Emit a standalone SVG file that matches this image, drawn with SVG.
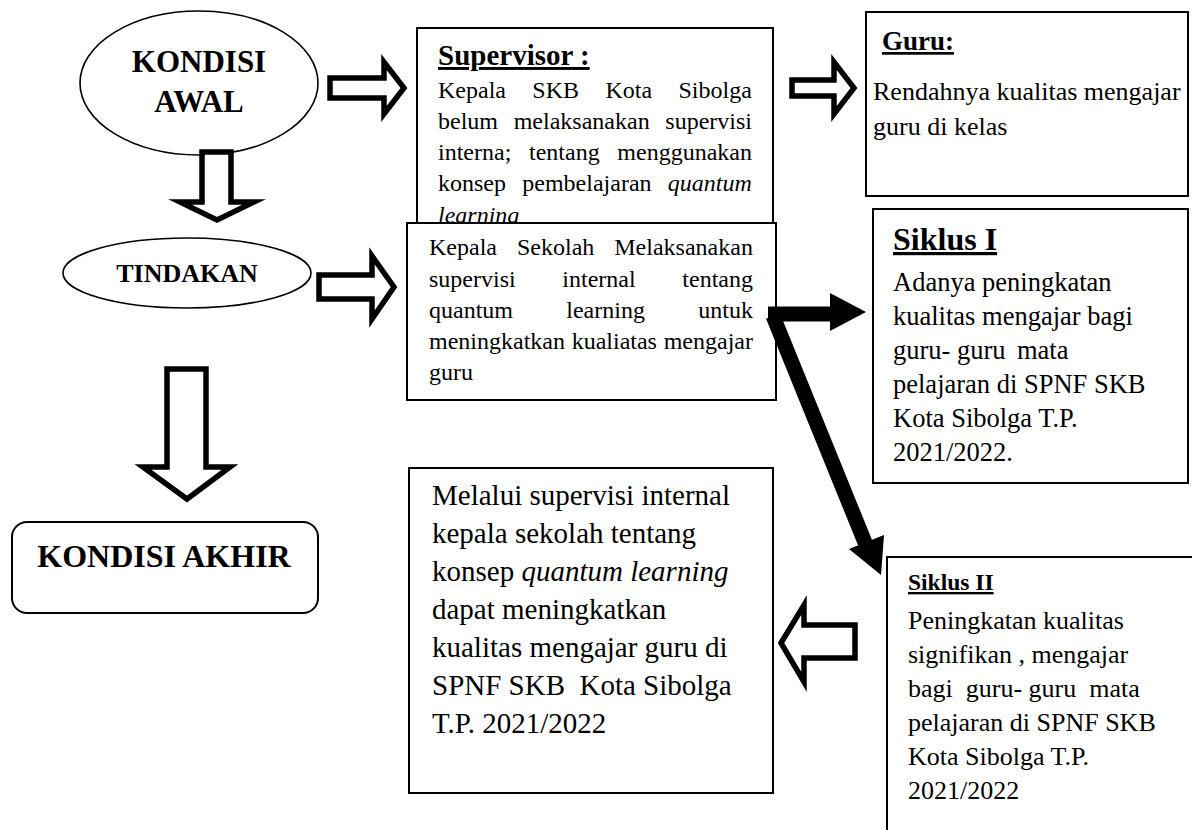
<svg xmlns="http://www.w3.org/2000/svg" width="1192" height="830" viewBox="0 0 1192 830">
<style>
text{font-family:"Liberation Serif","Times New Roman",serif;fill:#000}
.b{font-weight:bold}
.u{text-decoration:underline}
.box{fill:#fff;stroke:#000;stroke-width:2}
.ell{fill:#fff;stroke:#000;stroke-width:1.6}
.hol{fill:#fff;stroke:#000;stroke-width:5.5;stroke-linejoin:miter;stroke-miterlimit:10}
.blk{fill:#000;stroke:none}
.thick{stroke:#000;stroke-width:15;fill:none}
</style>
<rect width="1192" height="830" fill="#fff"/>

<g id="kondisi-awal">
<ellipse class="ell" cx="199" cy="83" rx="119" ry="72"/>
<text class="b" x="199" y="72" font-size="31" text-anchor="middle">KONDISI</text>
<text class="b" x="199" y="112" font-size="31" text-anchor="middle">AWAL</text>
</g>

<g id="supervisor">
<rect class="box" x="417" y="28" width="356" height="225"/>
<text class="b u" x="438" y="65" font-size="29">Supervisor :</text>
<text x="438" y="98" font-size="24" word-spacing="20.4">Kepala SKB Kota Sibolga</text>
<text x="438" y="129" font-size="24" word-spacing="9.7">belum melaksanakan supervisi</text>
<text x="438" y="160" font-size="24" word-spacing="11.7">interna; tentang menggunakan</text>
<text x="438" y="191" font-size="24" word-spacing="10.3">konsep pembelajaran <tspan font-style="italic">quantum</tspan></text>
<text x="438" y="223" font-size="24" font-style="italic">learning</text>
</g>

<g id="guru">
<rect class="box" x="866" y="12" width="322" height="184"/>
<text class="b u" x="882" y="50" font-size="27">Guru:</text>
<text x="873" y="100" font-size="26">Rendahnya kualitas mengajar</text>
<text x="873" y="135" font-size="26">guru di kelas</text>
</g>

<g id="tindakan">
<ellipse class="ell" cx="187" cy="273" rx="124" ry="35"/>
<text class="b" x="187" y="282" font-size="26" text-anchor="middle">TINDAKAN</text>
</g>

<g id="kepala-sekolah">
<rect class="box" x="407" y="223" width="369" height="177"/>
<text x="429" y="255" font-size="24" word-spacing="14">Kepala Sekolah Melaksanakan</text>
<text x="429" y="287" font-size="24" word-spacing="40.7">supervisi internal tentang</text>
<text x="429" y="318" font-size="24" word-spacing="47.3">quantum learning untuk</text>
<text x="429" y="349" font-size="24" word-spacing="0.7">meningkatkan kualiatas mengajar</text>
<text x="429" y="380" font-size="24">guru</text>
</g>

<g id="siklus-1">
<rect class="box" x="873" y="209" width="315" height="274"/>
<text class="b u" x="893" y="250" font-size="32">Siklus I</text>
<text x="893" y="291" font-size="26.5">Adanya peningkatan</text>
<text x="893" y="325" font-size="26.5">kualitas mengajar bagi</text>
<text x="893" y="359" font-size="26.5">guru- guru<tspan x="1017">mata</tspan></text>
<text x="893" y="393" font-size="26.5">pelajaran di SPNF SKB</text>
<text x="893" y="427" font-size="26.5">Kota Sibolga T.P.</text>
<text x="893" y="461" font-size="26.5">2021/2022.</text>
</g>

<g id="kondisi-akhir">
<rect class="box" x="12" y="522" width="306" height="91" rx="15" ry="15"/>
<text class="b" x="164" y="567" font-size="32" text-anchor="middle">KONDISI AKHIR</text>
</g>

<g id="melalui">
<rect class="box" x="409" y="468" width="364" height="325"/>
<text x="432" y="505" font-size="29">Melalui supervisi internal</text>
<text x="432" y="543" font-size="29">kepala sekolah tentang</text>
<text x="432" y="581" font-size="29">konsep <tspan font-style="italic">quantum learning</tspan></text>
<text x="432" y="619" font-size="29">dapat meningkatkan</text>
<text x="432" y="657" font-size="29">kualitas mengajar guru di</text>
<text x="432" y="695" font-size="29" xml:space="preserve">SPNF SKB  Kota Sibolga</text>
<text x="432" y="733" font-size="29">T.P. 2021/2022</text>
</g>

<g id="siklus-2">
<rect class="box" x="887" y="557" width="320" height="290"/>
<text class="b u" x="908" y="590" font-size="23.5">Siklus II</text>
<text x="908" y="629" font-size="26">Peningkatan kualitas</text>
<text x="908" y="663" font-size="26">signifikan , mengajar</text>
<text x="908" y="697" font-size="26" xml:space="preserve">bagi  guru- guru  mata</text>
<text x="908" y="731" font-size="26">pelajaran di SPNF SKB</text>
<text x="908" y="765" font-size="26">Kota Sibolga T.P.</text>
<text x="908" y="799" font-size="26">2021/2022</text>
</g>

<g id="connectors">
<polygon class="hol" points="330,78 384,78 384,62 404,88 384,114 384,98 330,98"/>
<polygon class="hol" points="792,80 834,80 834,62 854,88 834,114 834,96 792,96"/>
<polygon class="hol" points="202,152 231,152 231,202 254,202 217,220 180,202 202,202"/>
<polygon class="hol" points="319,275 372,275 372,256 394,287 372,319 372,299 319,299"/>
<polygon class="hol" points="167,369 206,369 206,467 230,467 187,499 143,467 167,467"/>
<polygon class="hol" points="781,643 804,605 804,625 855,625 855,658 804,658 804,682"/>
<line class="thick" x1="768" y1="314" x2="832" y2="314"/>
<polygon class="blk" points="830,293 866,312 830,331"/>
<line class="thick" x1="773" y1="316" x2="866" y2="545"/>
<polygon class="blk" points="849,549 884,535 881,575"/>
</g>
</svg>
